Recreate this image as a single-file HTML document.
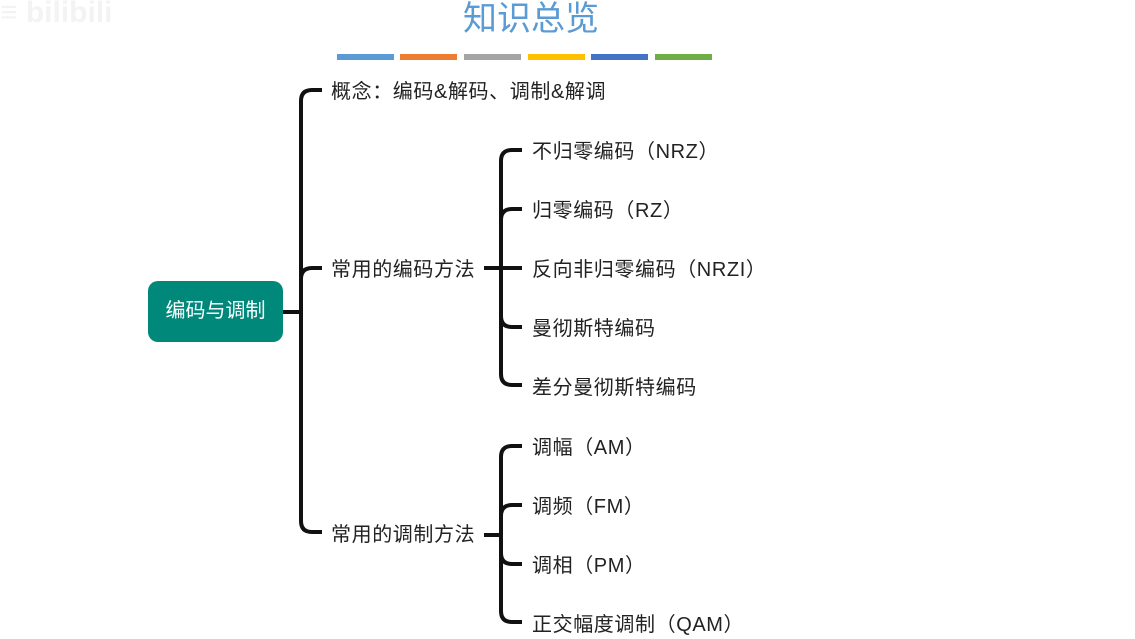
<!DOCTYPE html>
<html><head><meta charset="utf-8"><style>
body{margin:0;width:1135px;height:639px;background:#fff;overflow:hidden;position:relative;font-family:"Liberation Sans","Noto Sans CJK SC",sans-serif;}
.t{position:absolute;font-size:20px;letter-spacing:0.6px;color:#222;white-space:nowrap;line-height:22px;}
.bar{position:absolute;top:54px;height:6px;width:57px;}
</style></head><body>
<div style="position:absolute;left:0;top:-4px;font-size:30px;font-weight:bold;color:#f3f3f3;font-family:'Liberation Sans',sans-serif;">≡ bilibili</div>
<div style="position:absolute;left:431px;top:-1px;width:200px;text-align:center;font-size:34px;color:#5b9bd5;line-height:40px;font-family:'Liberation Sans','Noto Sans CJK SC',sans-serif;">知识总览</div>
<div class="bar" style="left:337px;background:#5b9bd5"></div>
<div class="bar" style="left:400px;background:#ed7d31"></div>
<div class="bar" style="left:464px;background:#a5a5a5"></div>
<div class="bar" style="left:528px;background:#ffc000"></div>
<div class="bar" style="left:591px;background:#4472c4"></div>
<div class="bar" style="left:655px;background:#70ad47"></div>
<svg width="1135" height="639" style="position:absolute;left:0;top:0" fill="none" stroke="#111" stroke-width="4">
<path d="M283 312 H301"/>
<path d="M322 90 H312 Q301 90 301 101 V521 Q301 532 312 532 H322"/>
<path d="M301 279 Q301 268 312 268 H322"/>
<path d="M484 268 H522"/>
<path d="M522 150 H512 Q501 150 501 161 V374 Q501 385 512 385 H522"/>
<path d="M501 220 Q501 209 512 209 H522"/>
<path d="M501 316 Q501 327 512 327 H522"/>
<path d="M484 535 H501"/>
<path d="M522 446 H512 Q501 446 501 457 V611 Q501 622 512 622 H522"/>
<path d="M501 516 Q501 505 512 505 H522"/>
<path d="M501 553 Q501 564 512 564 H522"/>
</svg>
<div style="position:absolute;left:148px;top:281px;width:135px;height:61px;background:#00897b;border-radius:10px;color:#fff;font-size:20px;line-height:61px;text-align:center;">编码与调制</div>
<div class="t" style="left:331px;top:81px">概念：编码&amp;解码、调制&amp;解调</div>
<div class="t" style="left:331px;top:259px">常用的编码方法</div>
<div class="t" style="left:331px;top:524px">常用的调制方法</div>
<div class="t" style="left:532px;top:141px">不归零编码（NRZ）</div>
<div class="t" style="left:532px;top:200px">归零编码（RZ）</div>
<div class="t" style="left:532px;top:259px">反向非归零编码（NRZI）</div>
<div class="t" style="left:532px;top:318px">曼彻斯特编码</div>
<div class="t" style="left:532px;top:377px">差分曼彻斯特编码</div>
<div class="t" style="left:532px;top:437px">调幅（AM）</div>
<div class="t" style="left:532px;top:496px">调频（FM）</div>
<div class="t" style="left:532px;top:555px">调相（PM）</div>
<div class="t" style="left:532px;top:614px">正交幅度调制（QAM）</div>
</body></html>
